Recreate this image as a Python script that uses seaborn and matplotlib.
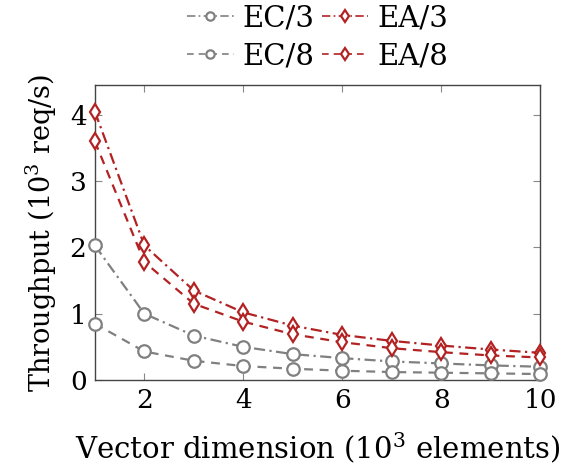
import matplotlib
matplotlib.use("Agg")
import matplotlib.pyplot as plt
import seaborn as sns
import pandas as pd

dims = [1, 2, 3, 4, 5, 6, 7, 8, 9, 10]
ec3 = [2.03, 1.00, 0.67, 0.50, 0.39, 0.33, 0.28, 0.25, 0.22, 0.20]
ea3 = [4.05, 2.03, 1.35, 1.02, 0.82, 0.68, 0.59, 0.52, 0.46, 0.41]
ec8 = [0.85, 0.43, 0.29, 0.21, 0.17, 0.14, 0.12, 0.11, 0.10, 0.09]
ea8 = [3.60, 1.78, 1.15, 0.88, 0.69, 0.57, 0.48, 0.42, 0.37, 0.34]
labels = ["EC/3", "EC/8", "EA/3", "EA/8"]  # column-wise order for 2-col legend

sns.set_theme(style="white")
plt.rcParams['font.family'] = ['DejaVu Serif']
plt.rcParams['mathtext.fontset'] = 'dejavuserif'
plt.rcParams['text.color'] = 'black'
plt.rcParams['axes.labelcolor'] = 'black'
plt.rcParams['xtick.labelcolor'] = 'black'
plt.rcParams['ytick.labelcolor'] = 'black'

grey = "#808080"
red = "#B22222"
styles = {
    "EC/3": dict(color=grey, marker="o", ls=(0, (5, 2, 1, 2))),
    "EA/3": dict(color=red, marker="d", ls=(0, (5, 2, 1, 2))),
    "EC/8": dict(color=grey, marker="o", ls=(0, (4, 3))),
    "EA/8": dict(color=red, marker="d", ls=(0, (4, 3))),
}
series = {"EC/3": ec3, "EA/3": ea3, "EC/8": ec8, "EA/8": ea8}

fig = plt.figure(figsize=(5.68, 4.75), dpi=100)
ax = fig.add_axes([0.167, 0.2, 0.784, 0.621])

for name in labels:
    df = pd.DataFrame({"x": dims, "y": series[name]})
    st = styles[name]
    sns.lineplot(data=df, x="x", y="y", ax=ax, color=st["color"], marker=st["marker"],
                 linestyle=st["ls"], linewidth=1.6, markersize=9 if st["marker"] == "o" else 8,
                 markerfacecolor="white", markeredgecolor=st["color"], markeredgewidth=1.6,
                 label=name, clip_on=False, zorder=3)

ax.set_xlim(1, 10)
ax.set_ylim(0, 4.45)
ax.set_xticks([2, 4, 6, 8, 10])
ax.set_yticks([0, 1, 2, 3, 4])
ax.tick_params(direction="in", length=5, width=0.8, color="#888888", labelsize=19,
               labelcolor="black", top=True, right=True, bottom=True, left=True, pad=6)
for s in ax.spines.values():
    s.set_color("#444444")
    s.set_linewidth(1.0)
ax.set_xlabel(r"Vector dimension ($10^3$ elements)", fontsize=21, labelpad=12, color="black")
ax.set_ylabel(r"Throughput ($10^3$ req/s)", fontsize=19.5, labelpad=8, color="black")

leg = ax.legend(loc="lower center", bbox_to_anchor=(0.5, 1.0), ncol=2, frameon=False,
                fontsize=21, handlelength=1.6, columnspacing=0.25, handletextpad=0.3,
                labelspacing=0.35, borderaxespad=0.1, labelcolor="black")
for h in leg.legend_handles:
    h.set_markersize(6)
    h.set_linewidth(1.2)

fig.savefig("out.png", dpi=100)
